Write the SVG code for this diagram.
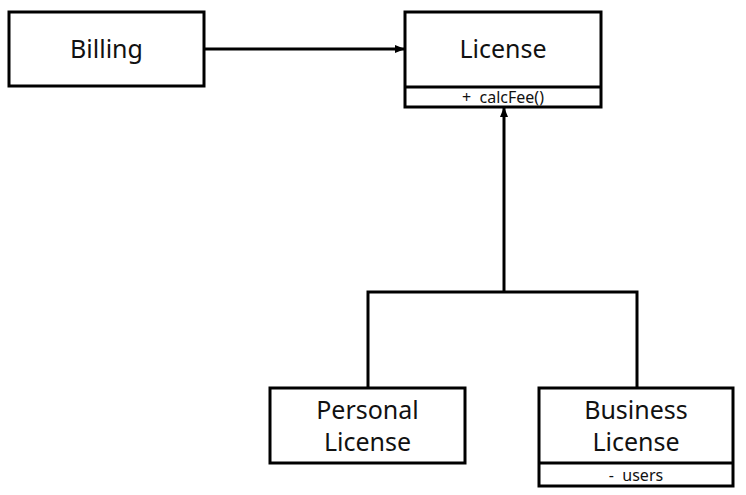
<svg xmlns="http://www.w3.org/2000/svg" width="746" height="495" viewBox="0 0 746 495">
<style>
.box{fill:#fff;stroke:#000;stroke-width:3}
.ln{fill:none;stroke:#000;stroke-width:3}
.t{font-family:"Noto Sans","Open Sans",sans-serif;font-size:25px;fill:#111;text-anchor:middle}
.s{font-family:"Noto Sans","Open Sans",sans-serif;font-size:16px;fill:#111;text-anchor:middle}
</style>
<defs>
<marker id="ah" markerWidth="10" markerHeight="8" refX="9" refY="4" orient="auto" markerUnits="userSpaceOnUse">
<path d="M0,0 L10,4 L0,8 Z" fill="#000"/>
</marker>
</defs>
<g id="connectors">
<line class="ln" x1="204" y1="49" x2="404" y2="49" marker-end="url(#ah)"/>
<polyline class="ln" points="368,388 368,292 637,292 637,388"/>
<line class="ln" x1="504" y1="292" x2="504" y2="108" marker-end="url(#ah)"/>
</g>
<g id="billing">
<rect class="box" x="9" y="12" width="195" height="74"/>
<text class="t" x="106.5" y="58">Billing</text>
</g>
<g id="license">
<rect class="box" x="405" y="12" width="196" height="95"/>
<line class="ln" x1="405" y1="87" x2="601" y2="87"/>
<text class="t" x="503" y="58">License</text>
<text class="s" x="503" y="103" xml:space="preserve">+  calcFee()</text>
</g>
<g id="personal">
<rect class="box" x="270" y="388" width="195" height="75"/>
<text class="t" x="367.5" y="419">Personal</text>
<text class="t" x="367.5" y="451">License</text>
</g>
<g id="business">
<rect class="box" x="539" y="388" width="194" height="98"/>
<line class="ln" x1="539" y1="463" x2="733" y2="463"/>
<text class="t" x="636" y="419">Business</text>
<text class="t" x="636" y="451">License</text>
<text class="s" x="636" y="481" xml:space="preserve">-  users</text>
</g>
</svg>
